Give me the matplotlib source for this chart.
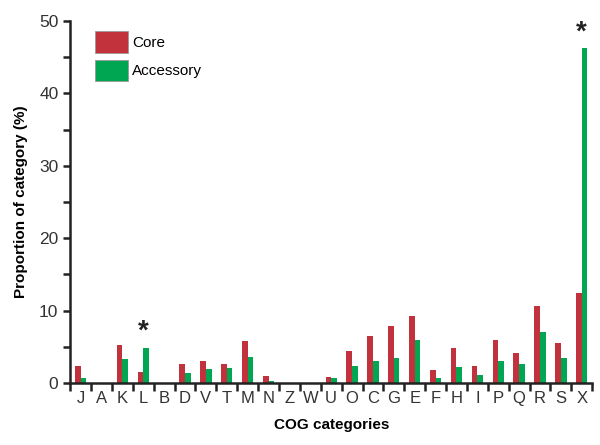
import numpy as np
import matplotlib.pyplot as plt

plt.rcParams['font.family'] = ['Liberation Sans', 'DejaVu Sans']

categorias = ['J', 'A', 'K', 'L', 'B', 'D', 'V', 'T', 'M', 'N', 'Z', 'W', 'U',
              'O', 'C', 'G', 'E', 'F', 'H', 'I', 'P', 'Q', 'R', 'S', 'X']
core = [2.4, 0, 5.3, 1.6, 0, 2.7, 3.1, 2.7, 5.8, 0.95, 0, 0, 0.9,
        4.4, 6.5, 7.9, 9.2, 1.75, 4.8, 2.35, 5.9, 4.15, 10.7, 5.5, 12.4]
accessory = [0.7, 0, 3.35, 4.9, 0, 1.4, 1.9, 2.05, 3.6, 0.35, 0, 0, 0.7,
             2.4, 3.05, 3.5, 5.9, 0.65, 2.2, 1.1, 3.05, 2.65, 7.0, 3.5, 46.2]
significativos = ['L', 'X']

cor_core = '#c1323d'
cor_acc = '#00a651'

x = np.arange(len(categorias))
w = 0.27

fig = plt.figure(figsize=(6, 4.45), dpi=100)
ax = fig.add_axes([0.117, 0.139, 0.87, 0.814])

ax.bar(x - w / 2, core, width=w, color=cor_core, label='Core')
ax.bar(x + w / 2, accessory, width=w, color=cor_acc, label='Accessory')

# asteriscos acima das categorias significativas
for cat in significativos:
    i = categorias.index(cat)
    topo = max(core[i], accessory[i])
    ax.text(x[i], topo + 0.4, '*', ha='center', va='bottom',
            fontsize=20, fontweight='bold', color='#222222')

ax.set_xlim(-0.5, len(categorias) - 0.5)
ax.set_ylim(0, 50)
ax.set_yticks([0, 10, 20, 30, 40, 50])
ax.set_yticks([5, 15, 25, 35, 45], minor=True)
ax.set_xticks(x)
ax.set_xticklabels(categorias)
ax.set_xticks(np.arange(-0.5, len(categorias)), minor=True)
ax.tick_params(axis='x', which='major', length=0, labelsize=12, pad=6, colors='#333333')
ax.tick_params(axis='x', which='minor', length=6, width=1.8, direction='out')
ax.tick_params(axis='y', which='both', length=5, width=1.8, direction='out',
               labelsize=12.5, colors='#333333')

for s in ['top', 'right']:
    ax.spines[s].set_visible(False)
for s in ['left', 'bottom']:
    ax.spines[s].set_linewidth(1.8)
    ax.spines[s].set_color('#222222')
ax.tick_params(axis='both', which='both', color='#222222')

ax.set_xlabel('COG categories', fontsize=11, fontweight='bold', labelpad=8)
ax.set_ylabel('Proportion of category (%)', fontsize=11, fontweight='bold', labelpad=8)

leg = ax.legend(loc='upper left', bbox_to_anchor=(0.022, 1.01), frameon=False,
                handlelength=2.1, handleheight=1.8, handletextpad=0.3,
                labelspacing=0.45, fontsize=11)
for h in leg.legend_handles:
    h.set_edgecolor('#999999')
    h.set_linewidth(0.6)

plt.savefig('out.png', dpi=100)
